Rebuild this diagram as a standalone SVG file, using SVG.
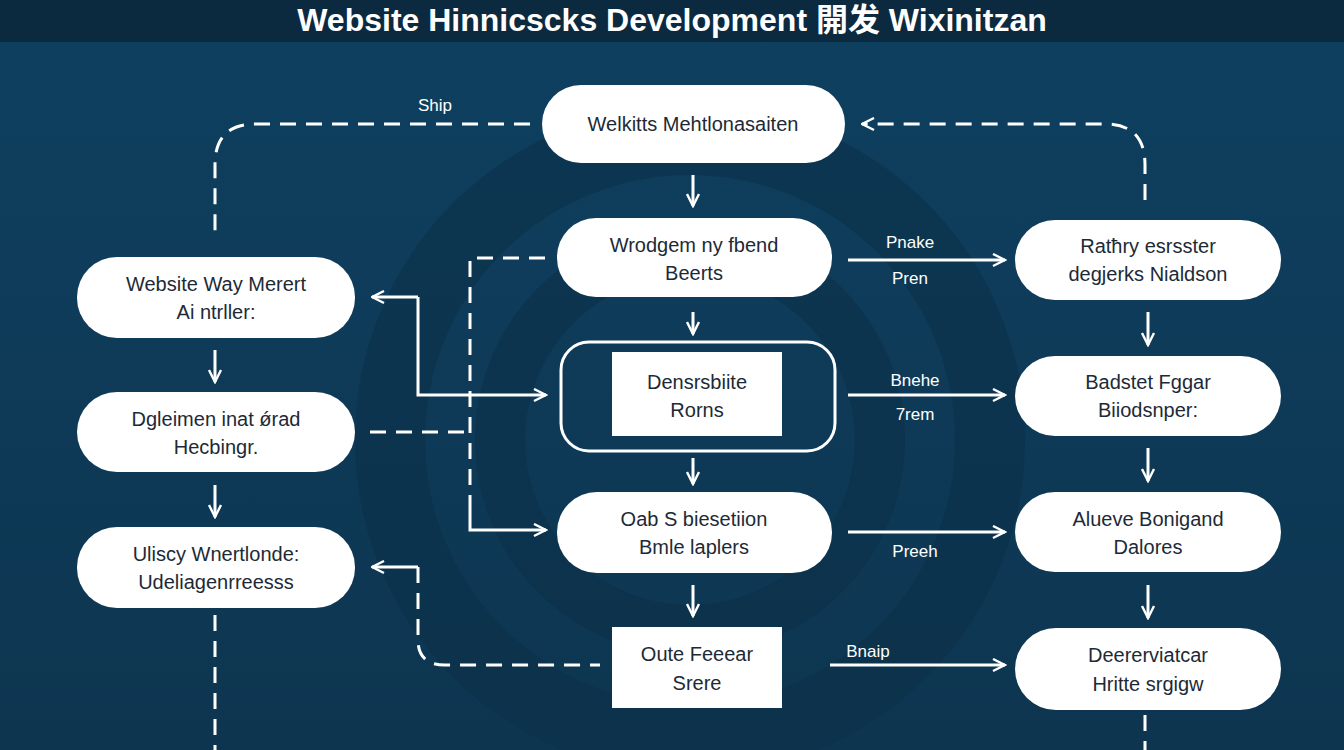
<svg xmlns="http://www.w3.org/2000/svg" width="1344" height="750" viewBox="0 0 1344 750">
<defs>
<linearGradient id="bg" x1="0" y1="0" x2="0" y2="1"><stop offset="0" stop-color="#0f4060"/><stop offset="1" stop-color="#0d3550"/></linearGradient>
<marker id="ah" viewBox="0 0 10 10" refX="9" refY="5" markerWidth="5" markerHeight="5" orient="auto-start-reverse" markerUnits="strokeWidth"><path d="M1,1 L9,5 L1,9" fill="none" stroke="#fff" stroke-width="1.6"/></marker>
<style>
.pill{fill:#fff}
.t{font-family:"Liberation Sans",Arial,sans-serif;font-size:20px;fill:#1d2a36;text-anchor:middle}
.lb{font-family:"Liberation Sans",Arial,sans-serif;font-size:17px;fill:#fff;text-anchor:middle}
.s{stroke:#fff;stroke-width:3;fill:none}
.d{stroke:#fff;stroke-width:3;fill:none;stroke-dasharray:16 10}
</style>
</defs>
<rect width="1344" height="750" fill="url(#bg)"/>
<rect width="1344" height="42" fill="#0b2a40"/>
<circle cx="690" cy="440" r="300" fill="none" stroke="#0c3049" stroke-width="70" opacity="0.6"/>
<circle cx="690" cy="440" r="190" fill="none" stroke="#0b2d45" stroke-width="50" opacity="0.5"/>
<text x="672" y="31" font-family="Liberation Sans,Arial,Noto Sans CJK SC,sans-serif" font-size="32" font-weight="bold" fill="#fff" text-anchor="middle">Website Hinnicscks Development 開发 Wixinitzan</text>
<g id="connectors">
<path class="d" d="M530,124 H255 Q215,124 215,165 V240"/>
<path class="d" d="M1145,200 V165 Q1145,124 1105,124 H862" marker-end="url(#ah)"/>
<path class="d" d="M215,615 V750"/>
<path class="d" d="M1145,715 V750"/>
<path class="d" d="M545,258 H470 V505"/>
<path class="s" d="M470,505 V530 H546" marker-end="url(#ah)"/>
<path class="s" d="M418,297 H372" marker-end="url(#ah)"/>
<path class="s" d="M418,297 V395 H546" marker-end="url(#ah)"/>
<path class="d" d="M370,432 H470"/>
<path class="s" d="M418,567 H372" marker-end="url(#ah)"/>
<path class="d" d="M418,567 V640 Q418,665 445,665 H600"/>
<path class="s" d="M848,260 H1005" marker-end="url(#ah)"/>
<path class="s" d="M848,395 H1005" marker-end="url(#ah)"/>
<path class="s" d="M848,532 H1005" marker-end="url(#ah)"/>
<path class="s" d="M830,665 H1005" marker-end="url(#ah)"/>
<path class="s" d="M693,175 V206" marker-end="url(#ah)"/>
<path class="s" d="M693,312 V334" marker-end="url(#ah)"/>
<path class="s" d="M693,458 V484" marker-end="url(#ah)"/>
<path class="s" d="M693,585 V616" marker-end="url(#ah)"/>
<path class="s" d="M215,350 V382" marker-end="url(#ah)"/>
<path class="s" d="M215,485 V517" marker-end="url(#ah)"/>
<path class="s" d="M1148,312 V345" marker-end="url(#ah)"/>
<path class="s" d="M1148,448 V481" marker-end="url(#ah)"/>
<path class="s" d="M1148,585 V618" marker-end="url(#ah)"/>
<text class="lb" x="435" y="111">Ship</text>
<text class="lb" x="910" y="248">Pnake</text>
<text class="lb" x="910" y="284">Pren</text>
<text class="lb" x="915" y="386">Bnehe</text>
<text class="lb" x="915" y="420">7rem</text>
<text class="lb" x="915" y="557">Preeh</text>
<text class="lb" x="868" y="657">Bnaip</text>
</g>
<g id="n-top"><rect class="pill" x="542" y="85" width="303" height="78" rx="39"/><text class="t" x="693" y="131">Welkitts Mehtlonasaiten</text></g>
<g id="n-c1"><rect class="pill" x="557" y="218" width="275" height="79" rx="39"/><text class="t" x="694" y="252">Wrodgem ny fbend</text><text class="t" x="694" y="280">Beerts</text></g>
<g id="n-c2"><rect x="561" y="342" width="274" height="109" rx="28" fill="none" stroke="#fff" stroke-width="3"/><rect class="pill" x="612" y="352" width="170" height="84"/><text class="t" x="697" y="389">Densrsbiite</text><text class="t" x="697" y="417">Rorns</text></g>
<g id="n-c3"><rect class="pill" x="557" y="492" width="275" height="81" rx="40"/><text class="t" x="694" y="526">Oab S biesetiion</text><text class="t" x="694" y="554">Bmle laplers</text></g>
<g id="n-c4"><rect class="pill" x="612" y="627" width="170" height="81"/><text class="t" x="697" y="661">Oute Feeear</text><text class="t" x="697" y="690">Srere</text></g>
<g id="n-l1"><rect class="pill" x="77" y="257" width="278" height="81" rx="40"/><text class="t" x="216" y="291">Website Way Merert</text><text class="t" x="216" y="319">Ai ntrller:</text></g>
<g id="n-l2"><rect class="pill" x="77" y="392" width="278" height="80" rx="40"/><text class="t" x="216" y="426">Dgleimen inat ǿrad</text><text class="t" x="216" y="454">Hecbingr.</text></g>
<g id="n-l3"><rect class="pill" x="77" y="527" width="278" height="81" rx="40"/><text class="t" x="216" y="561">Ulisсy Wnertlonde:</text><text class="t" x="216" y="589">Udeliagenrreesss</text></g>
<g id="n-r1"><rect class="pill" x="1015" y="220" width="266" height="80" rx="40"/><text class="t" x="1148" y="253">Ratħry esrsster</text><text class="t" x="1148" y="281">degjerks Nialdson</text></g>
<g id="n-r2"><rect class="pill" x="1015" y="356" width="266" height="80" rx="40"/><text class="t" x="1148" y="389">Badstet Fggar</text><text class="t" x="1148" y="417">Biiodsnper:</text></g>
<g id="n-r3"><rect class="pill" x="1015" y="492" width="266" height="80" rx="40"/><text class="t" x="1148" y="526">Alueve Bonigand</text><text class="t" x="1148" y="554">Dalores</text></g>
<g id="n-r4"><rect class="pill" x="1015" y="628" width="266" height="82" rx="41"/><text class="t" x="1148" y="662">Deererviatcar</text><text class="t" x="1148" y="691">Hritte srgigw</text></g>
</svg>
